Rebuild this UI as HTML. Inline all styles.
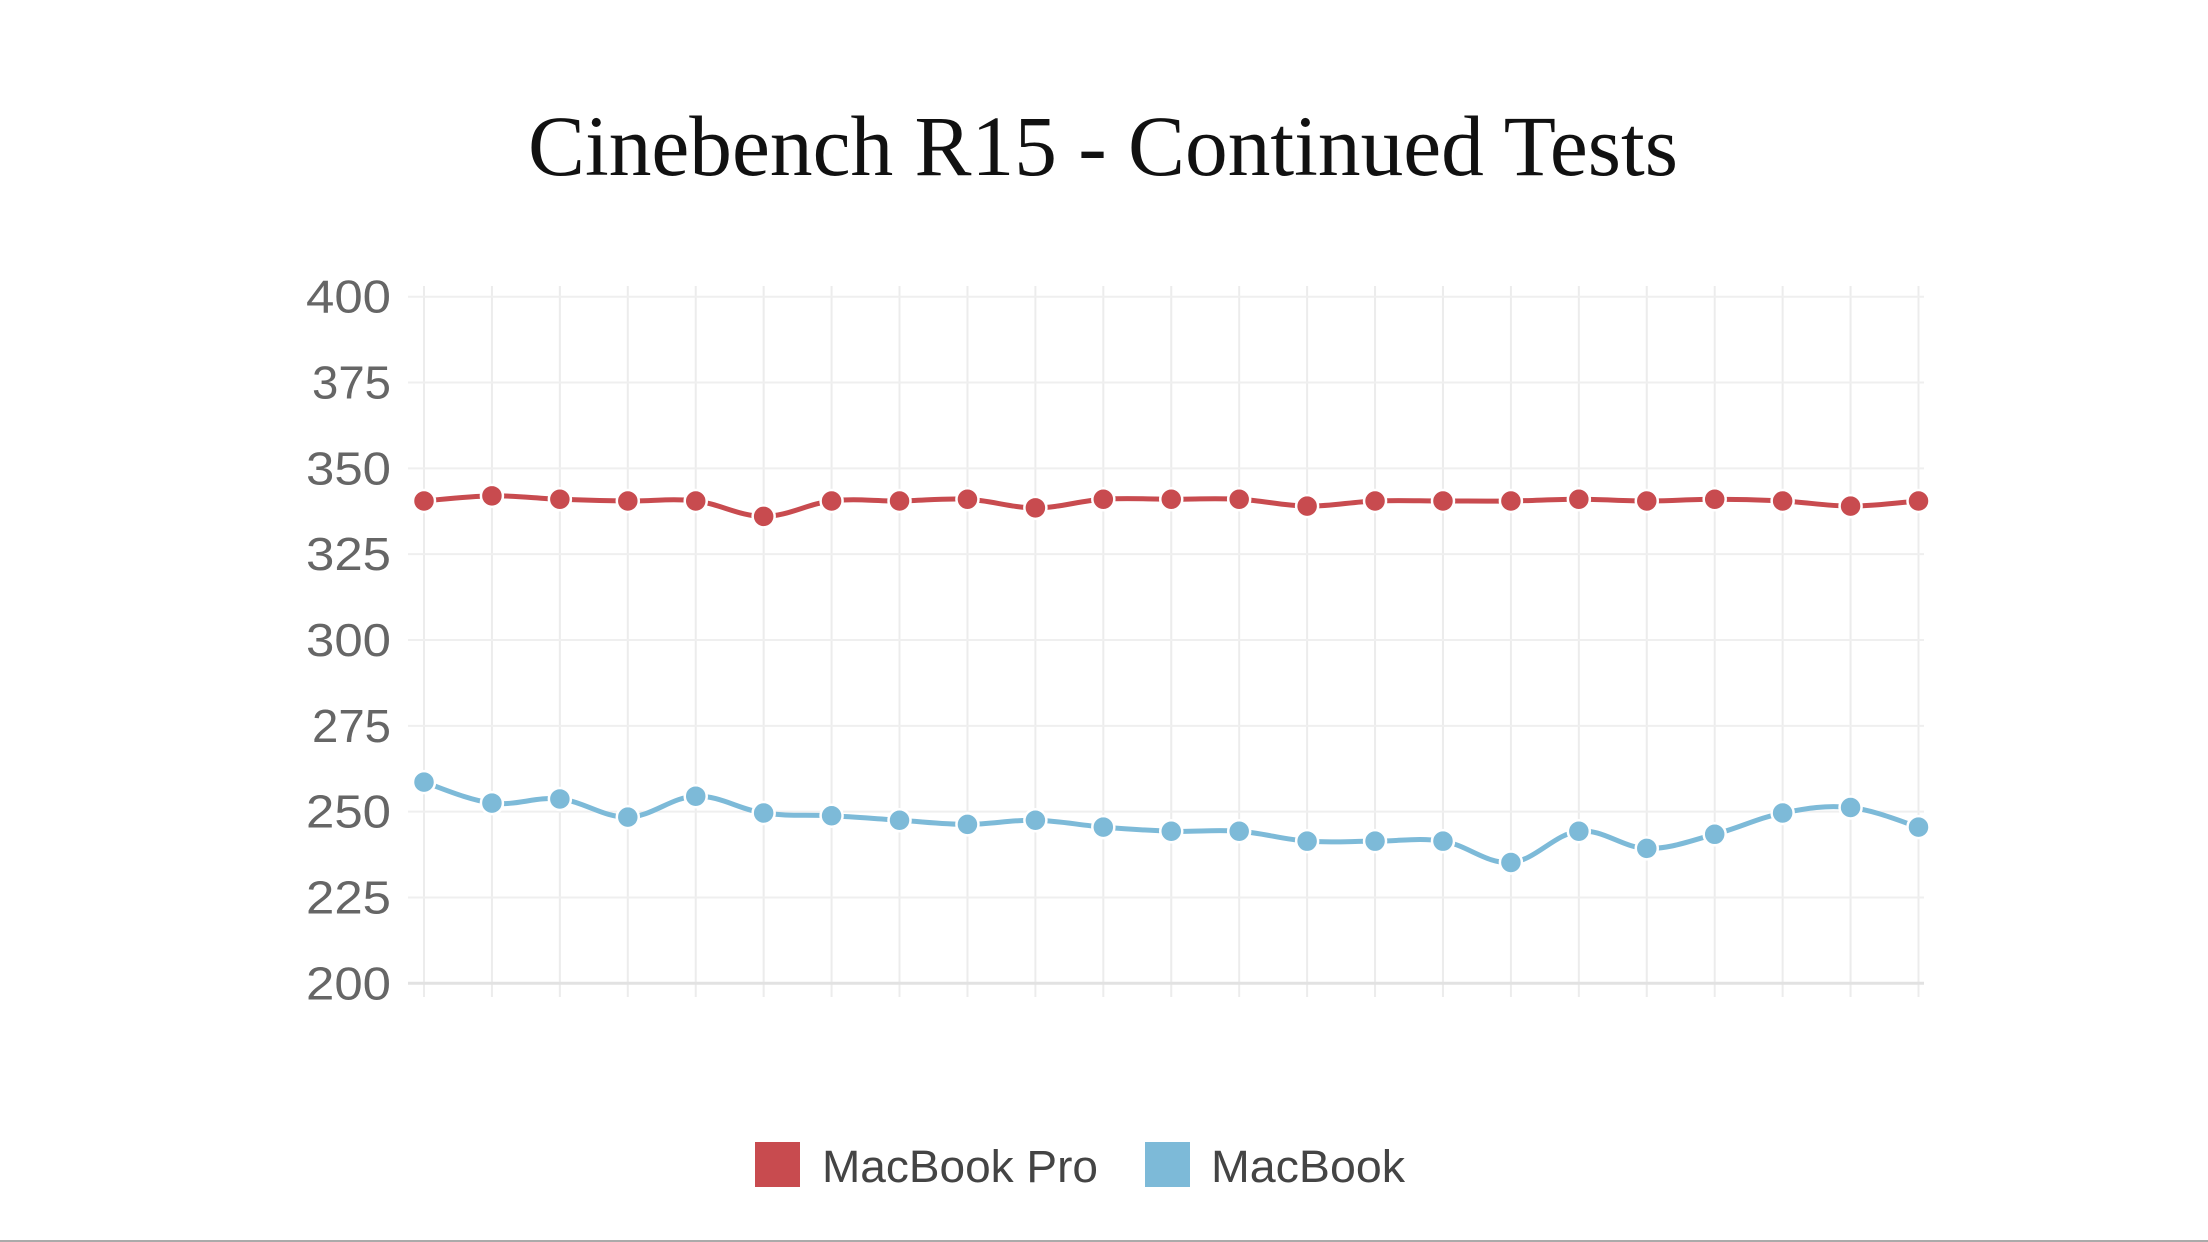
<!DOCTYPE html>
<html><head><meta charset="utf-8"><style>
html,body{margin:0;padding:0;background:#fff;}
svg{display:block;}
</style></head><body>
<svg id="s" width="2208" height="1242" viewBox="0 0 2208 1242" xmlns="http://www.w3.org/2000/svg">
<rect width="2208" height="1242" fill="#fff"/>
<text x="1103" y="175" text-anchor="middle" font-family="Liberation Serif, serif" font-size="86" fill="#111" textLength="1150" lengthAdjust="spacingAndGlyphs">Cinebench R15 - Continued Tests</text>
<g id="grid"></g>
<g id="ylab" font-family="Liberation Sans, sans-serif" font-size="46" fill="#666" text-anchor="end"></g>
<g id="series"></g>
<rect x="755" y="1142" width="45" height="45" fill="#c84b4f"/>
<text x="822" y="1182" font-family="Liberation Sans, sans-serif" font-size="45" fill="#444" textLength="276" lengthAdjust="spacingAndGlyphs">MacBook Pro</text>
<rect x="1145" y="1142" width="45" height="45" fill="#7dbad8"/>
<text x="1211" y="1182" font-family="Liberation Sans, sans-serif" font-size="45" fill="#444" textLength="194" lengthAdjust="spacingAndGlyphs">MacBook</text>
<rect x="0" y="1240" width="2208" height="2" fill="#aaa"/>
</svg>
<script>
var NS="http://www.w3.org/2000/svg";
function el(t,a,p){var e=document.createElementNS(NS,t);for(var k in a)e.setAttribute(k,a[k]);p.appendChild(e);return e;}
var x0=424,dx=(1918.5-424)/22;
function Y(v){return 983.3-(v-200)*(983.3-296.7)/200;}
var g=document.getElementById('grid');
for(var i=0;i<23;i++){var x=x0+i*dx;el('line',{x1:x,x2:x,y1:286,y2:997,stroke:'#ececec','stroke-width':2},g);}
for(var v=200;v<=400;v+=25){var y=Y(v);el('line',{x1:408,x2:1924,y1:y,y2:y,stroke:v==200?'#e2e2e2':'#efefef','stroke-width':v==200?3:2},g);
var t=el('text',{x:391,y:y+16,textLength:v==375||v==275?79:85,lengthAdjust:'spacingAndGlyphs'},document.getElementById('ylab'));t.textContent=v;}
var red=[340.5,342,341,340.5,340.5,336,340.5,340.5,341,338.5,341,341,341,339,340.5,340.5,340.5,341,340.5,341,340.5,339,340.5];
var blue=[258.6,252.5,253.7,248.4,254.5,249.6,248.8,247.5,246.3,247.5,245.5,244.3,244.3,241.4,241.4,241.4,235.2,244.3,239.3,243.4,249.6,251.2,245.5];
var sg=document.getElementById('series');
function draw(d,c){var p=d.map(function(v,i){return [x0+i*dx,Y(v)];});
var s='M'+p[0][0]+','+p[0][1];
for(var i=0;i<p.length-1;i++){var a=p[Math.max(0,i-1)],b=p[i],c2=p[i+1],e=p[Math.min(p.length-1,i+2)];
var k=0.18;s+=' C'+(b[0]+(c2[0]-a[0])*k)+','+(b[1]+(c2[1]-a[1])*k)+' '+(c2[0]-(e[0]-b[0])*k)+','+(c2[1]-(e[1]-b[1])*k)+' '+c2[0]+','+c2[1];}
el('path',{d:s,fill:'none',stroke:c,'stroke-width':5},sg);
p.forEach(function(q){el('circle',{cx:q[0],cy:q[1],r:11,fill:c,stroke:'#fff','stroke-width':2.5},sg);});}
draw(red,'#c84b4f');draw(blue,'#7dbad8');
</script>
</body></html>
